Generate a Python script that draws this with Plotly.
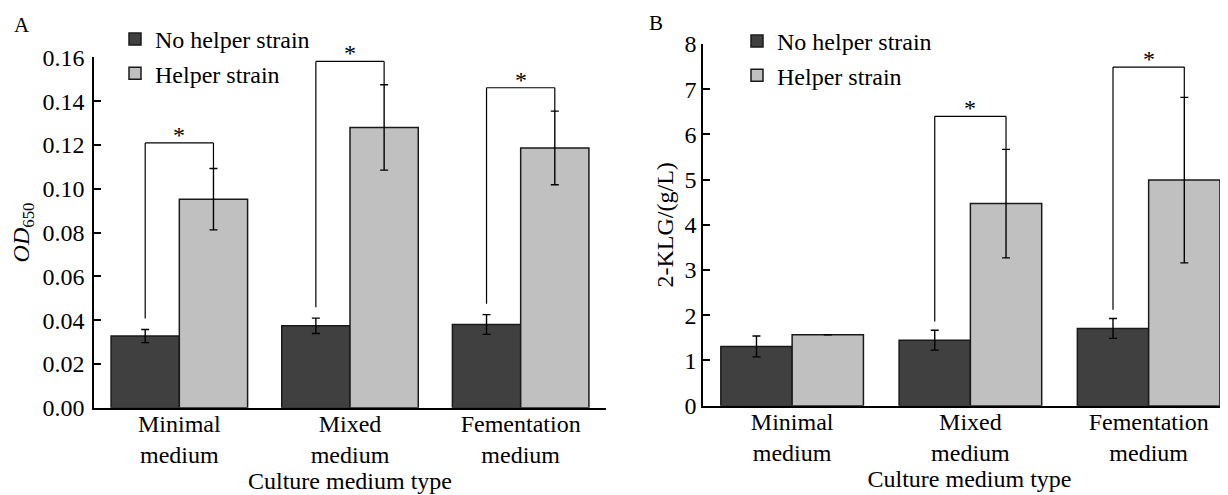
import plotly.graph_objects as go

# ---------------- data ----------------
categories = ["Minimal<br>medium", "Mixed<br>medium", "Fementation<br>medium"]
series_names = ["No helper strain", "Helper strain"]

od_no_helper = [0.0327, 0.0374, 0.0380]
od_no_helper_err = [0.0030, 0.0035, 0.0045]
od_helper = [0.0952, 0.1280, 0.1186]
od_helper_err = [0.0140, 0.0195, 0.0168]
od_sig_bracket = [0.1209, 0.1581, 0.1461]

klg_no_helper = [1.31, 1.45, 1.71]
klg_no_helper_err = [0.23, 0.22, 0.22]
klg_helper = [1.57, 4.47, 4.99]
klg_helper_err = [None, 1.20, 1.83]
klg_sig_bracket = [None, 6.40, 7.49]

od_tickvals = [0, 0.02, 0.04, 0.06, 0.08, 0.10, 0.12, 0.14, 0.16]
od_ticktext = ["0.00", "0.02", "0.04", "0.06", "0.08", "0.10", "0.12", "0.14", "0.16"]
klg_tickvals = [0, 1, 2, 3, 4, 5, 6, 7, 8]

# ---------------- style ----------------
FONT = "Liberation Serif"
DARK = "#404040"
LIGHT = "#c0c0c0"
EDGE = "#1a1a1a"
W, H = 1228, 495
FS = 24
OFF = 8  # page body margin in the browser


def px(sx):
    return (sx - OFF) / W


def py(sy):
    return 1 - (sy - OFF) / H


fig = go.Figure()


def add_pair(no_vals, no_err, h_vals, h_err, xa, ya, legend):
    for name, vals, err, col in [
        (series_names[0], no_vals, no_err, DARK),
        (series_names[1], h_vals, h_err, LIGHT),
    ]:
        fig.add_trace(go.Bar(
            x=categories, y=vals, name=name,
            xaxis=xa, yaxis=ya, legend=legend,
            marker=dict(color=col, line=dict(color=EDGE, width=1.5)),
            error_y=dict(type="data", array=err, visible=True,
                         color="black", thickness=1.4, width=4),
        ))


add_pair(od_no_helper, od_no_helper_err, od_helper, od_helper_err, "x", "y", "legend")
add_pair(klg_no_helper, klg_no_helper_err, klg_helper, klg_helper_err, "x2", "y2", "legend2")

shapes = []
annotations = []


def add_brackets(sig, no_vals, no_err, h_vals, h_err, xref, yref, gap):
    for i, top in enumerate(sig):
        if top is None:
            continue
        x0, x1 = i - 0.2, i + 0.2
        y_left = no_vals[i] + (no_err[i] or 0) + gap
        y_right = h_vals[i] + (h_err[i] or 0)
        line = dict(color="black", width=1.2)
        shapes.append(dict(type="line", xref=xref, yref=yref, x0=x0, x1=x0, y0=y_left, y1=top, line=line))
        shapes.append(dict(type="line", xref=xref, yref=yref, x0=x0, x1=x1, y0=top, y1=top, line=line))
        shapes.append(dict(type="line", xref=xref, yref=yref, x0=x1, x1=x1, y0=top, y1=y_right, line=line))
        annotations.append(dict(xref=xref, yref=yref, x=i, y=top, text="*", showarrow=False,
                                yanchor="middle", yshift=8,
                                font=dict(family=FONT, size=FS, color="black")))


add_brackets(od_sig_bracket, od_no_helper, od_no_helper_err, od_helper, od_helper_err, "x", "y", 0.005)
add_brackets(klg_sig_bracket, klg_no_helper, klg_no_helper_err, klg_helper, klg_helper_err, "x2", "y2", 0.19)

annotations.append(dict(xref="paper", yref="paper", x=px(12), y=py(25), text="A", showarrow=False,
                        xanchor="left", yanchor="middle", font=dict(family=FONT, size=21, color="black")))
annotations.append(dict(xref="paper", yref="paper", x=px(647), y=py(23), text="B", showarrow=False,
                        xanchor="left", yanchor="middle", font=dict(family=FONT, size=21, color="black")))

axis_common = dict(showline=True, linecolor="black", linewidth=1.5, showgrid=False, zeroline=False,
                   automargin=False, tickfont=dict(family=FONT, size=FS, color="black"))
xcommon = dict(axis_common, ticks="", type="category", ticklabelstandoff=-6,
               title=dict(text="Culture medium type", font=dict(family=FONT, size=FS, color="black"), standoff=5))
ycommon = dict(axis_common, ticks="inside", ticklen=7, tickwidth=1.5, tickcolor="black")

fig.update_layout(
    width=W, height=H,
    margin=dict(l=0, r=0, t=0, b=0, pad=0, autoexpand=False),
    paper_bgcolor="white", plot_bgcolor="white",
    font=dict(family=FONT, size=FS, color="black"),
    barmode="group", bargap=0.2, bargroupgap=0,
    xaxis=dict(xcommon, domain=[px(94), px(606)], range=[-0.5, 2.5], anchor="y"),
    yaxis=dict(ycommon, domain=[py(407.7), py(57.3)], range=[0, 0.16], ticklabelstandoff=3,
               tickvals=od_tickvals, ticktext=od_ticktext, anchor="x",
               title=dict(text="<i>OD</i><sub>650</sub>", font=dict(family=FONT, size=FS), standoff=9)),
    xaxis2=dict(xcommon, domain=[px(703), 1.0], range=[-0.5, 2.49], anchor="y2"),
    yaxis2=dict(ycommon, domain=[py(405.7), py(44)], range=[0, 8],
                tickvals=klg_tickvals, anchor="x2",
                title=dict(text="2-KLG/(g/L)", font=dict(family=FONT, size=FS), standoff=4)),
    legend=dict(x=px(115), y=py(17), xanchor="left", yanchor="top", bgcolor="rgba(0,0,0,0)",
                font=dict(family=FONT, size=FS, color="black"), tracegroupgap=0),
    legend2=dict(x=px(737), y=py(19), xanchor="left", yanchor="top", bgcolor="rgba(0,0,0,0)",
                 font=dict(family=FONT, size=FS, color="black"), tracegroupgap=0),
    shapes=shapes,
    annotations=annotations,
)

fig.write_html("out.html")
